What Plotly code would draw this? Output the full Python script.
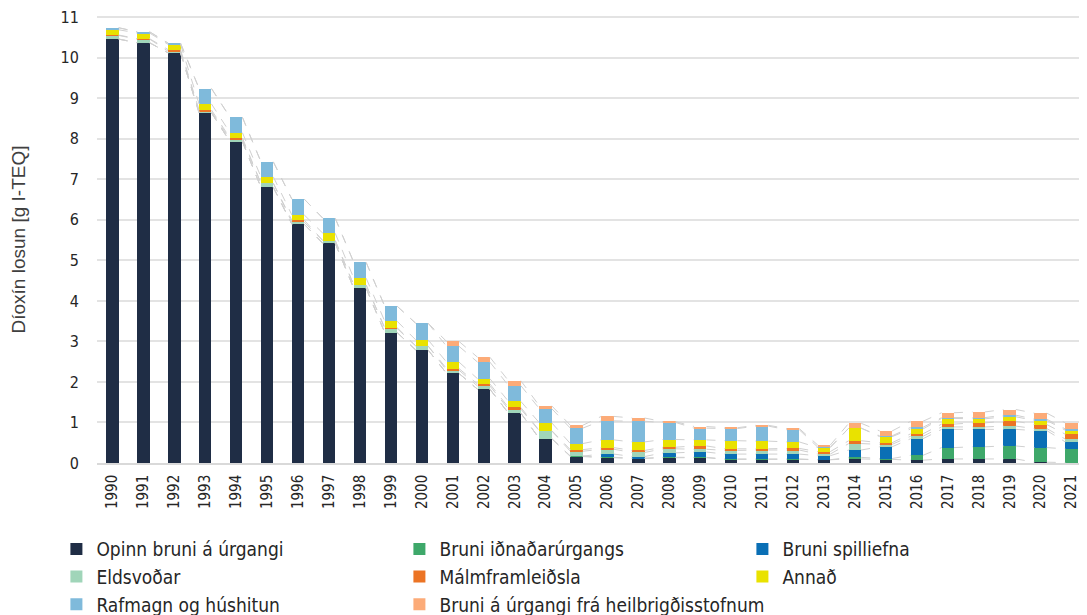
import plotly.graph_objects as go

years = list(range(1990, 2022))

opinn = [10.46, 10.37, 10.12, 8.64, 7.93, 6.80, 5.89, 5.42, 4.31, 3.22, 2.79, 2.21, 1.82, 1.23, 0.60, 0.16,
         0.13, 0.11, 0.13, 0.13, 0.09, 0.09, 0.09, 0.08, 0.10, 0.09, 0.07, 0.10, 0.10, 0.10, 0.02, 0.01]
idnadar = [0, 0, 0, 0, 0, 0, 0, 0, 0, 0, 0, 0, 0, 0, 0,
           0.01, 0.01, 0.01, 0.01, 0.01, 0.01, 0.01, 0.01, 0.00,
           0.04, 0.02, 0.12, 0.28, 0.30, 0.32, 0.36, 0.34]
spilliefna = [0, 0, 0, 0, 0, 0, 0, 0, 0, 0, 0, 0, 0, 0, 0, 0,
              0.08, 0.04, 0.11, 0.13, 0.12, 0.12, 0.12, 0.10, 0.18, 0.29, 0.41, 0.45, 0.43, 0.41, 0.42, 0.17]
eldsvodar = [0.09, 0.09, 0.04, 0.03, 0.05, 0.10, 0.05, 0.07, 0.08, 0.10, 0.10, 0.08, 0.08, 0.10, 0.19, 0.12,
             0.12, 0.10, 0.10, 0.07, 0.09, 0.10, 0.10, 0.04, 0.16, 0.06, 0.06, 0.06, 0.06, 0.08, 0.05, 0.07]
malm = [0.01, 0.01, 0.04, 0.04, 0.04, 0.00, 0.05, 0.00, 0.00, 0.02, 0.00, 0.04, 0.05, 0.04, 0.01, 0.04,
        0.04, 0.05, 0.04, 0.08, 0.04, 0.03, 0.04, 0.06, 0.07, 0.04, 0.06, 0.07, 0.10, 0.12, 0.10, 0.12]
annad = [0.13, 0.14, 0.13, 0.15, 0.13, 0.16, 0.13, 0.18, 0.17, 0.16, 0.15, 0.16, 0.13, 0.15, 0.19, 0.15,
         0.19, 0.21, 0.19, 0.15, 0.20, 0.19, 0.16, 0.10, 0.31, 0.15, 0.12, 0.14, 0.10, 0.11, 0.10, 0.10]
rafmagn = [0.05, 0.03, 0.03, 0.38, 0.38, 0.37, 0.39, 0.37, 0.39, 0.37, 0.41, 0.39, 0.41, 0.39, 0.35, 0.38,
           0.47, 0.51, 0.42, 0.29, 0.30, 0.37, 0.30, 0.01, 0.00, 0.02, 0.04, 0.02, 0.03, 0.04, 0.03, 0.03]
heilbr = [0, 0, 0, 0, 0, 0, 0, 0, 0, 0, 0, 0.12, 0.12, 0.12, 0.07, 0.07,
          0.11, 0.08, 0.02, 0.04, 0.02, 0.02, 0.03, 0.05, 0.12, 0.12, 0.15, 0.12, 0.14, 0.14, 0.15, 0.15]

names = ["Opinn bruni á úrgangi", "Bruni iðnaðarúrgangs", "Bruni spilliefna",
         "Eldsvoðar", "Málmframleiðsla", "Annað",
         "Rafmagn og húshitun", "Bruni á úrgangi frá heilbrigðisstofnum"]
series = [opinn, idnadar, spilliefna, eldsvodar, malm, annad, rafmagn, heilbr]
colors = ["#1f2d45", "#3ea86a", "#0a6fb5", "#a0d5b9", "#ec7424", "#e9e200", "#7fbadb", "#fcab78"]

bar_w = 0.4
narrow = "Liberation Sans Narrow, DejaVu Sans Condensed, Arial Narrow, sans-serif"

fig = go.Figure()

# series lines (dashed connectors between stacked tops)
cum = [0.0] * len(years)
lx, ly = [], []
for s in series:
    cum = [c + v for c, v in zip(cum, s)]
    for i in range(len(years) - 1):
        lx += [years[i] + bar_w / 2, years[i + 1] - bar_w / 2, None]
        ly += [cum[i], cum[i + 1], None]
fig.add_trace(go.Scatter(x=lx, y=ly, mode="lines", showlegend=False, hoverinfo="skip",
                         line=dict(color="#d0d0d0", width=1, dash="dash")))

for n, s, c in zip(names, series, colors):
    fig.add_trace(go.Bar(x=years, y=s, name=n, marker=dict(color=c, line=dict(width=0)),
                         width=bar_w))

fig.update_layout(
    width=1079, height=607,
    barmode="stack",
    plot_bgcolor="white", paper_bgcolor="white",
    margin=dict(l=89, r=0, t=8, b=152, autoexpand=False),
    font=dict(family=narrow, size=15, color="#262626"),
    legend=dict(orientation="h", x=-0.041, xanchor="left", y=-0.15, yanchor="top",
                traceorder="normal", entrywidth=298, entrywidthmode="pixels",
                font=dict(family=narrow, size=19, color="#262626"),
                tracegroupgap=0),
)
fig.update_xaxes(range=[1989.5, 2021.5], tickmode="array", tickvals=years,
                 ticktext=[str(y) for y in years], tickangle=-90, automargin=False,
                 showgrid=False, showline=True, linecolor="#d9d9d9", linewidth=1.5,
                 ticks="outside", ticklen=4, tickcolor="white",
                 tickfont=dict(family=narrow, size=15, color="#262626"))
fig.update_yaxes(range=[0, 11.03], tickmode="array", tickvals=list(range(0, 12)),
                 showgrid=True, gridcolor="#e3e3e3", gridwidth=1.5, ticklabeloverflow="allow",
                 zeroline=False, ticks="outside", ticklen=14, tickcolor="white", automargin=False,
                 tickfont=dict(family=narrow, size=16, color="#262626"),
                 title=dict(text="Díoxín losun [g I-TEQ]", standoff=38,
                            font=dict(family="Liberation Sans, Arial, sans-serif", size=19, color="#404040")))

fig.write_html("out.html")
